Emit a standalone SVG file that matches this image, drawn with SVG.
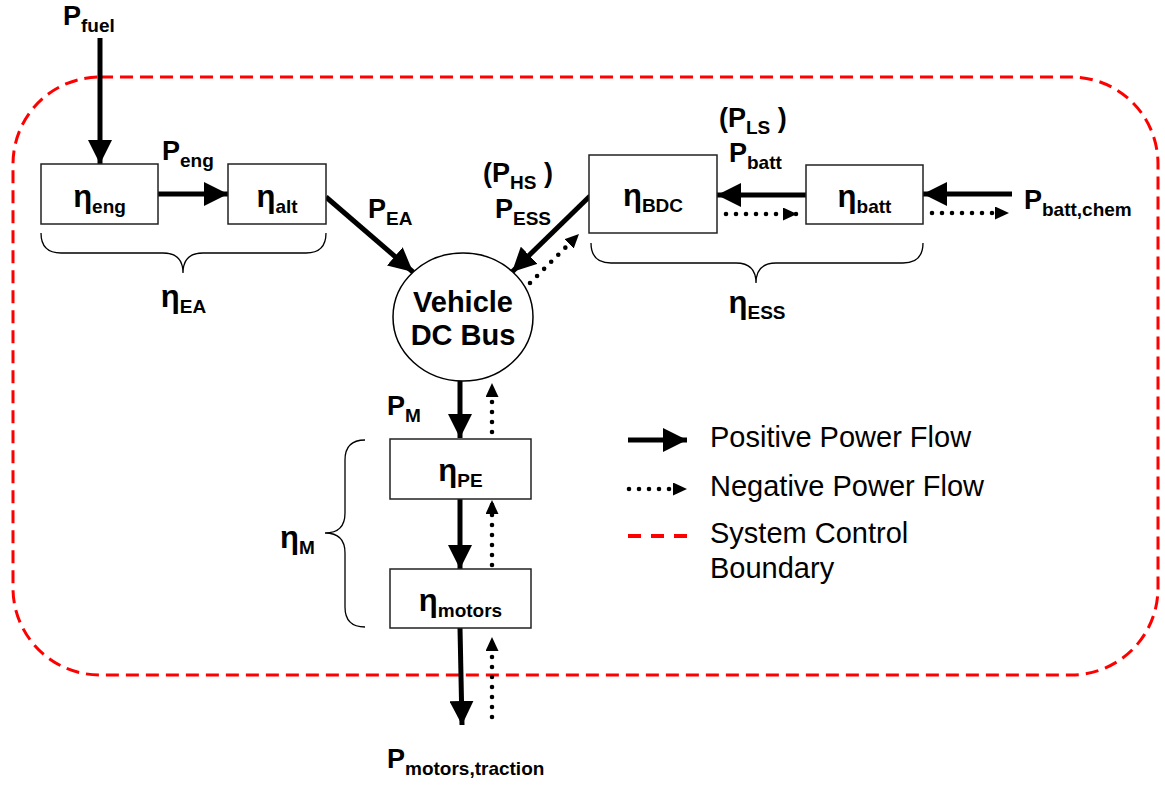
<svg xmlns="http://www.w3.org/2000/svg" width="1165" height="786" viewBox="0 0 1165 786">
<style>
text{font-family:"Liberation Sans",Arial,sans-serif;fill:#000}
.b{font-weight:bold;font-size:27px}
.e{font-size:31px}
.sub{font-size:19px}
.big{font-weight:bold;font-size:29px}
.leg{font-size:29px}
.box{fill:#fff;stroke:#222;stroke-width:1.5}
.pos{stroke:#000;stroke-width:5;fill:none;marker-end:url(#hs)}
.neg{stroke:#000;stroke-width:4.6;fill:none;stroke-dasharray:0 10;stroke-linecap:round;marker-end:url(#hd)}
.brace{fill:none;stroke:#000;stroke-width:1.3}
.bound{fill:none;stroke:#f00;stroke-width:3;stroke-dasharray:13 7}
</style>
<defs>
<marker id="hs" markerUnits="userSpaceOnUse" markerWidth="25" markerHeight="24" refX="24" refY="12" orient="auto"><path d="M0,0 L24,12 L0,24 z" fill="#000"/></marker>
<marker id="hd" markerUnits="userSpaceOnUse" markerWidth="15" markerHeight="14" refX="14" refY="6.5" orient="auto"><path d="M0,0 L14,6.5 L0,13 z" fill="#000"/></marker>
</defs>
<rect id="boundary" class="bound" x="13" y="77" width="1145" height="598" rx="87" ry="87"/>
<g id="connectors">
<path class="pos" d="M100,38 L100,164"/>
<path class="pos" d="M158,194 L228,194"/>
<path class="pos" d="M326,197 L413,272"/>
<path class="pos" d="M590,196 L512,272"/>
<path class="neg" d="M530,283 L579,234"/>
<path class="pos" d="M806,195 L717,195"/>
<path class="neg" d="M726,214 L797,214"/>
<path class="pos" d="M1012,194 L923,194"/>
<path class="neg" d="M932,213 L1009,213"/>
<path class="pos" d="M460,381 L460,438"/>
<path class="neg" d="M492,432 L492,383"/>
<path class="pos" d="M460,499 L460,569"/>
<path class="neg" d="M492,565 L492,500"/>
<path class="pos" d="M460,628 L462,725"/>
<path class="neg" d="M492,717 L492,637"/>
</g>
<g id="braces">
<path class="brace" d="M41,233 Q41,253 61,253 L163,253 Q183,253 183,273 Q183,253 203,253 L306,253 Q326,253 326,233"/>
<path class="brace" d="M591,243 Q591,263 611,263 L736,263 Q756,263 756,283 Q756,263 776,263 L903,263 Q923,263 923,243"/>
<path class="brace" d="M365,440 Q345,440 345,460 L345,513 Q345,533 325,533 Q345,533 345,553 L345,607 Q345,627 365,627"/>
</g>
<g id="node-eng"><rect class="box" x="41" y="164" width="117" height="60"/><text class="b" x="99.5" y="207" text-anchor="middle"><tspan class="e">η</tspan><tspan class="sub" dy="6">eng</tspan></text></g>
<g id="node-alt"><rect class="box" x="228" y="164" width="98" height="60"/><text class="b" x="277" y="207" text-anchor="middle"><tspan class="e">η</tspan><tspan class="sub" dy="6">alt</tspan></text></g>
<g id="node-bus"><ellipse cx="463" cy="317" rx="70" ry="64" fill="#fff" stroke="#000" stroke-width="1.5"/><text class="big" x="463" y="312" text-anchor="middle">Vehicle</text><text class="big" x="463" y="345" text-anchor="middle">DC Bus</text></g>
<g id="node-bdc"><rect class="box" x="589" y="155" width="128" height="78"/><text class="b" x="653" y="206" text-anchor="middle"><tspan class="e">η</tspan><tspan class="sub" dy="6">BDC</tspan></text></g>
<g id="node-batt"><rect class="box" x="806" y="165" width="117" height="59"/><text class="b" x="864.5" y="207" text-anchor="middle"><tspan class="e">η</tspan><tspan class="sub" dy="6">batt</tspan></text></g>
<g id="node-pe"><rect class="box" x="390" y="439" width="141" height="60"/><text class="b" x="460.5" y="481" text-anchor="middle"><tspan class="e">η</tspan><tspan class="sub" dy="6">PE</tspan></text></g>
<g id="node-motors"><rect class="box" x="390" y="569" width="141" height="59"/><text class="b" x="460.5" y="611" text-anchor="middle"><tspan class="e">η</tspan><tspan class="sub" dy="6">motors</tspan></text></g>
<g id="labels">
<text class="b" x="63" y="25">P<tspan class="sub" dy="7">fuel</tspan></text>
<text class="b" x="162" y="160">P<tspan class="sub" dy="7">eng</tspan></text>
<text class="b" x="368" y="218">P<tspan class="sub" dy="7">EA</tspan></text>
<text class="b" x="483" y="182">(P<tspan class="sub" dy="7">HS</tspan><tspan dy="-7"> )</tspan></text>
<text class="b" x="495" y="218">P<tspan class="sub" dy="7">ESS</tspan></text>
<text class="b" x="719" y="127">(P<tspan class="sub" dy="7">LS</tspan><tspan dy="-7"> )</tspan></text>
<text class="b" x="729" y="162">P<tspan class="sub" dy="7">batt</tspan></text>
<text class="b" x="1024" y="209">P<tspan class="sub" dy="7">batt,chem</tspan></text>
<text class="b" x="183.5" y="307" text-anchor="middle"><tspan class="e">η</tspan><tspan class="sub" dy="6">EA</tspan></text>
<text class="b" x="757" y="313" text-anchor="middle"><tspan class="e">η</tspan><tspan class="sub" dy="6">ESS</tspan></text>
<text class="b" x="280" y="548"><tspan class="e">η</tspan><tspan class="sub" dy="6">M</tspan></text>
<text class="b" x="387" y="415">P<tspan class="sub" dy="7">M</tspan></text>
<text class="b" x="387" y="768">P<tspan class="sub" dy="7">motors,traction</tspan></text>
</g>
<g id="legend">
<path class="pos" d="M628,440 L687,440"/>
<path class="neg" d="M629,489 L687,489"/>
<path d="M628,536 L687,536" stroke="#f00" stroke-width="4" stroke-dasharray="13 10"/>
<text class="leg" x="710" y="447">Positive Power Flow</text>
<text class="leg" x="710" y="496">Negative Power Flow</text>
<text class="leg" x="710" y="543">System Control</text>
<text class="leg" x="710" y="578">Boundary</text>
</g>
</svg>
